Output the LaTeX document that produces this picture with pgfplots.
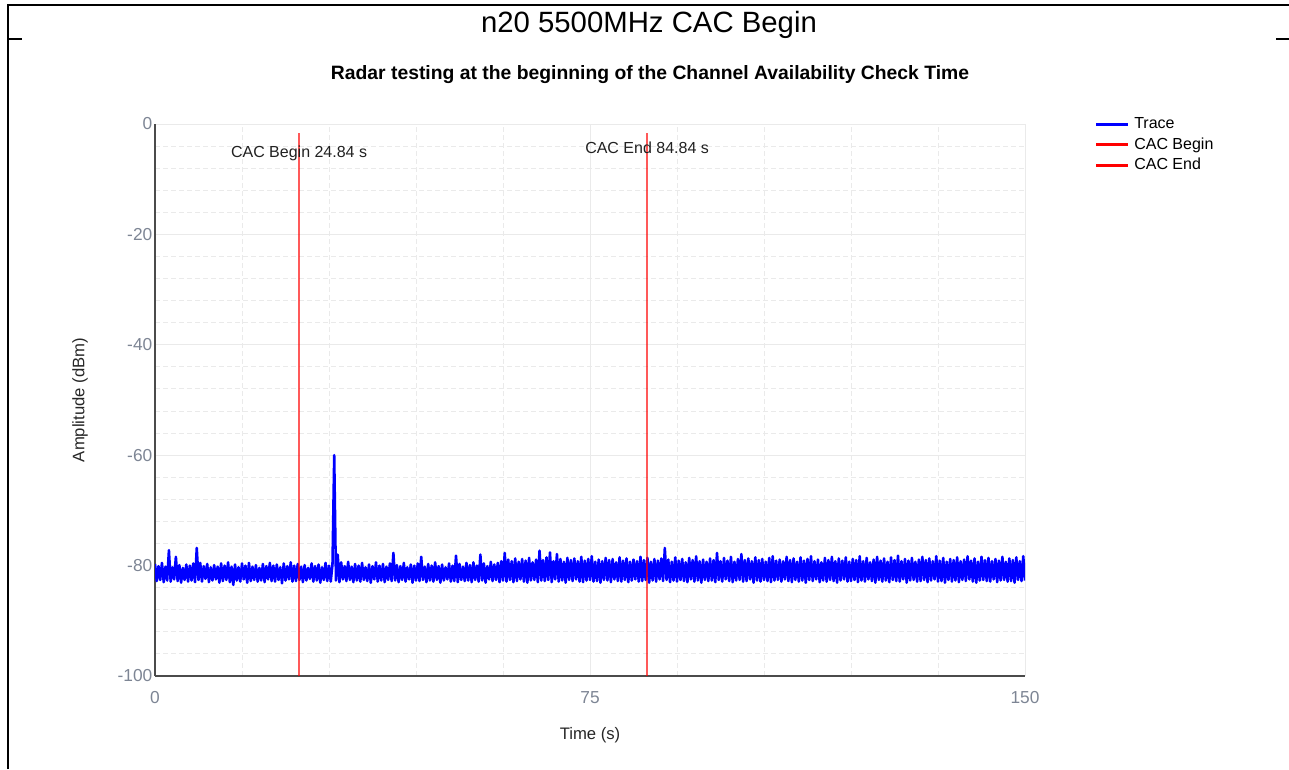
\documentclass[border=0pt]{standalone}
\usepackage{fontspec}
\setmainfont{Liberation Sans}
\usepackage{pgfplots}
\usepackage{pgfplotstable}
\pgfplotsset{compat=1.18}
\definecolor{tickgray}{RGB}{125,133,148}
\definecolor{gridgray}{RGB}{234,234,234}
\definecolor{axisgray}{RGB}{75,75,75}

\pgfplotstableread[row sep=\\]{y\\
-79.7\\-82.8\\-80.1\\-82.6\\-79.5\\-83.0\\-80.2\\-82.7\\-77.2\\-82.9\\-80.3\\-82.5\\-78.4\\-82.8\\-79.9\\-83.1\\-80.4\\-82.6\\-79.8\\-82.9\\
-80.0\\-82.7\\-79.6\\-83.0\\-76.8\\-82.6\\-79.5\\-82.9\\-80.1\\-82.4\\-79.7\\-83.0\\-80.3\\-82.7\\-79.9\\-82.5\\-80.2\\-83.1\\-79.6\\-82.8\\
-80.0\\-82.6\\-79.4\\-83.0\\-80.2\\-83.5\\-79.8\\-82.7\\-80.3\\-82.9\\-79.6\\-82.5\\-80.0\\-83.1\\-79.5\\-82.8\\-80.2\\-82.6\\-79.9\\-82.9\\
-80.4\\-82.7\\-79.7\\-83.0\\-80.1\\-82.5\\-79.5\\-82.8\\-80.0\\-82.9\\-79.8\\-82.6\\-80.3\\-83.2\\-79.6\\-82.7\\-80.1\\-82.5\\-79.4\\-82.9\\
-80.0\\-82.8\\-79.7\\-82.6\\-80.2\\-83.0\\-79.9\\-82.7\\-80.4\\-82.4\\-79.6\\-82.9\\-80.1\\-82.7\\-79.8\\-83.1\\-80.3\\-82.6\\-79.5\\-82.8\\
-80.0\\-82.9\\-79.8\\-60.0\\-82.7\\-78.0\\-83.0\\-79.4\\-82.5\\-80.1\\-82.8\\-79.3\\-82.6\\-80.2\\-83.0\\-79.7\\-82.7\\-80.0\\-82.9\\-79.5\\
-82.6\\-80.3\\-82.8\\-79.8\\-83.1\\-80.1\\-82.5\\-79.4\\-82.9\\-80.0\\-82.7\\-79.7\\-83.0\\-80.2\\-82.6\\-79.6\\-82.8\\-77.7\\-82.7\\-79.9\\
-83.0\\-80.1\\-82.6\\-79.5\\-82.9\\-80.3\\-82.5\\-79.8\\-83.1\\-80.0\\-82.7\\-79.6\\-82.8\\-78.4\\-82.6\\-80.2\\-83.0\\-79.7\\-82.7\\-80.0\\
-82.9\\-79.4\\-82.6\\-80.1\\-83.1\\-79.8\\-82.7\\-80.3\\-82.5\\-79.6\\-82.9\\-80.0\\-82.8\\-78.2\\-83.0\\-79.7\\-82.6\\-80.2\\-82.8\\-79.5\\
-82.7\\-79.9\\-83.0\\-79.4\\-82.6\\-80.0\\-82.9\\-78.0\\-82.7\\-79.6\\-83.1\\-80.1\\-82.5\\-79.3\\-82.8\\-79.8\\-82.6\\-79.5\\-83.0\\-79.2\\
-82.7\\-77.7\\-82.9\\-78.9\\-82.6\\-79.2\\-83.0\\-78.7\\-82.8\\-79.3\\-82.5\\-78.8\\-82.9\\-79.1\\-83.1\\-78.6\\-82.7\\-79.4\\-82.6\\-78.9\\
-83.0\\-77.3\\-82.7\\-79.0\\-82.8\\-78.5\\-82.6\\-77.6\\-83.0\\-79.2\\-82.5\\-77.9\\-82.9\\-78.8\\-82.7\\-79.3\\-83.1\\-78.6\\-82.6\\-79.0\\
-82.8\\-78.7\\-82.5\\-79.2\\-82.9\\-78.4\\-83.0\\-79.1\\-82.7\\-78.8\\-82.6\\-78.3\\-82.9\\-79.3\\-82.8\\-78.9\\-83.1\\-79.2\\-82.6\\-78.6\\
-82.7\\-79.0\\-83.0\\-78.8\\-82.5\\-79.4\\-82.8\\-78.5\\-82.9\\-79.1\\-82.6\\-78.7\\-83.0\\-79.3\\-82.7\\-78.9\\-82.5\\-79.2\\-82.9\\-78.4\\
-82.8\\-79.0\\-82.6\\-78.6\\-83.1\\-79.3\\-82.7\\-78.8\\-82.9\\-79.1\\-82.5\\-78.7\\-82.8\\-76.8\\-82.6\\-78.9\\-83.0\\-79.3\\-82.7\\-78.5\\
-82.9\\-79.1\\-82.6\\-78.8\\-82.8\\-79.4\\-83.0\\-78.6\\-82.5\\-79.0\\-82.9\\-78.3\\-82.7\\-79.2\\-83.1\\-78.9\\-82.6\\-79.3\\-82.8\\-78.7\\
-82.7\\-79.0\\-83.0\\-77.7\\-82.6\\-79.2\\-82.9\\-78.6\\-82.5\\-79.1\\-82.8\\-78.4\\-83.0\\-79.3\\-82.7\\-78.8\\-82.6\\-77.9\\-82.9\\-79.0\\
-82.8\\-78.7\\-82.5\\-79.2\\-83.1\\-78.5\\-82.7\\-79.0\\-82.9\\-78.8\\-82.6\\-79.3\\-82.8\\-78.6\\-83.0\\-78.3\\-82.7\\-79.1\\-82.6\\-78.9\\
-82.9\\-79.2\\-82.5\\-78.4\\-82.8\\-79.0\\-83.0\\-78.7\\-82.6\\-79.3\\-82.9\\-78.5\\-82.7\\-79.1\\-83.1\\-78.8\\-82.6\\-78.3\\-82.8\\-79.2\\
-82.5\\-78.9\\-83.0\\-79.4\\-82.7\\-78.6\\-82.9\\-79.0\\-82.6\\-78.4\\-82.8\\-79.2\\-83.1\\-78.7\\-82.7\\-79.1\\-82.5\\-78.5\\-82.9\\-79.3\\
-82.8\\-78.8\\-82.6\\-79.0\\-83.0\\-78.3\\-82.7\\-79.2\\-82.9\\-78.6\\-82.5\\-79.4\\-82.8\\-78.9\\-83.1\\-78.4\\-82.6\\-79.1\\-82.9\\-78.7\\
-82.7\\-79.3\\-83.0\\-78.5\\-82.6\\-79.0\\-82.8\\-78.2\\-82.9\\-79.2\\-82.5\\-78.8\\-83.1\\-79.1\\-82.7\\-78.6\\-82.6\\-79.3\\-82.9\\-78.9\\
-82.8\\-78.4\\-82.6\\-79.0\\-83.0\\-78.7\\-82.7\\-79.2\\-82.5\\-78.3\\-82.9\\-79.1\\-82.8\\-78.6\\-83.1\\-79.3\\-82.6\\-78.8\\-82.9\\-79.0\\
-82.7\\-78.5\\-83.0\\-79.2\\-82.6\\-78.9\\-82.8\\-78.3\\-82.5\\-79.1\\-82.9\\-78.7\\-83.1\\-79.3\\-82.7\\-78.4\\-82.6\\-79.0\\-82.8\\-78.6\\
-82.9\\-79.2\\-82.5\\-78.8\\-83.0\\-79.1\\-82.7\\-78.4\\-82.6\\-79.3\\-82.9\\-78.7\\-82.8\\-79.0\\-83.1\\-78.5\\-82.6\\-79.2\\-82.8\\-78.3\\
-82.7\\
}\tracedata

\begin{document}
\begin{tikzpicture}[x=0.75pt,y=-0.75pt]
\useasboundingbox (0,0) rectangle (1289,769);
\draw[line width=1.1pt] (8,769) -- (8,5) -- (1289,5);
\draw[line width=1.1pt] (8,39) -- (22,39);
\draw[line width=1.1pt] (1276,39) -- (1289,39);
\node[anchor=base, font=\fontsize{22}{26}\selectfont] at (649,32) {n20 5500MHz CAC Begin};
\node[anchor=base, font=\fontsize{14.5}{17}\selectfont\bfseries] at (650,79) {Radar testing at the beginning of the Channel Availability Check Time};
\begin{axis}[
  at={(116.25pt,-507pt)}, anchor=south west,
  scale only axis, width=652.5pt, height=414pt,
  xmin=0, xmax=150, ymin=-100, ymax=0,
  xtick={0,75,150}, ytick={-100,-80,-60,-40,-20,0},
  minor x tick num=4, minor y tick num=4,
  grid=both,
  major grid style={draw=gridgray, line width=0.75pt},
  minor grid style={draw=gridgray, line width=0.75pt, dash pattern=on 4pt off 2pt},
  axis x line*=bottom, axis y line*=left,
  axis line style={draw=axisgray, line width=1.6pt, -},
  major tick length=0pt, minor tick length=0pt,
  tick style={draw=none},
  /pgf/number format/assume math mode=true,
  ticklabel style={font=\fontsize{13}{15}\selectfont, text=tickgray},
  xticklabel style={yshift=-8pt},
  yticklabel style={xshift=1.5pt},
  xlabel={Time (s)}, ylabel={Amplitude (dBm)},
  label style={font=\fontsize{12.5}{15}\selectfont, text=black!85},
  xlabel style={at={(axis description cs:0.5,-0.1069)}, anchor=center},
  ylabel style={at={(axis description cs:-0.0862,0.5)}, anchor=center},
  legend style={draw=none, fill=none, at={(1.0797,1.0189)}, anchor=north west,
    font=\fontsize{12}{14}\selectfont, inner sep=0pt, row sep=0pt, column sep=1.5pt,
    nodes={inner sep=2pt, text height=9pt, text depth=2.5pt}},
  legend cell align=left,
  legend image code/.code={\draw[#1] (0pt,0pt) -- (24pt,0pt);},
]
\addplot[forget plot, draw=blue, line width=1.9pt, line join=round] table[x expr=\coordindex*0.3, y=y] {\tracedata};
\addplot[forget plot, draw=red, opacity=0.65, line width=1.6pt] coordinates {(24.84,-1.63) (24.84,-100)};
\addplot[forget plot, draw=red, opacity=0.65, line width=1.6pt] coordinates {(84.84,-1.63) (84.84,-100)};
\addlegendimage{draw=blue, line width=2.25pt}
\addlegendentry{Trace}
\addlegendimage{draw=red, line width=2.25pt}
\addlegendentry{CAC Begin}
\addlegendimage{draw=red, line width=2.25pt}
\addlegendentry{CAC End}
\node[anchor=base, font=\fontsize{12}{14}\selectfont, text=black!87] at (axis cs:24.84,-5.98) {CAC Begin 24.84 s};
\node[anchor=base, font=\fontsize{12}{14}\selectfont, text=black!87] at (axis cs:84.84,-5.43) {CAC End 84.84 s};
\end{axis}
\end{tikzpicture}
\end{document}
